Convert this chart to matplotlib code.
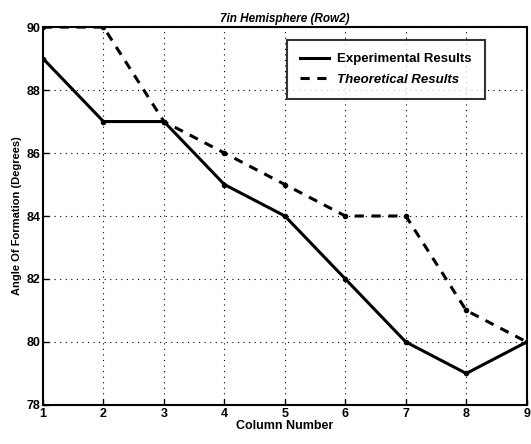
import matplotlib
matplotlib.use("Agg")
import matplotlib.pyplot as plt
from matplotlib.lines import Line2D

columns = [1, 2, 3, 4, 5, 6, 7, 8, 9]
experimental = [89, 87, 87, 85, 84, 82, 80, 79, 80]
theoretical = [90, 90, 87, 86, 85, 84, 84, 81, 80]
yticks = [78, 80, 82, 84, 86, 88, 90]

plt.rcParams['font.family'] = ['Liberation Sans', 'DejaVu Sans']
plt.rcParams['font.weight'] = 'bold'

fig = plt.figure(figsize=(5.31, 4.44), dpi=100)
ax = fig.add_axes([0.081, 0.088, 0.911, 0.851])

ax.plot(columns, experimental, 'k-', linewidth=2.2, marker='o', markersize=3)
ax.plot(columns, theoretical, 'k--', linewidth=2.2, marker='o', markersize=3,
        dashes=(3, 2.5))

ax.set_xlim(1, 9)
ax.set_ylim(78, 90)
ax.set_xticks(columns)
ax.set_yticks(yticks)
ax.tick_params(direction='in', length=4, width=1, labelsize=9, pad=2)
for lab in ax.get_xticklabels() + ax.get_yticklabels():
    lab.set_fontweight('bold')
ax.grid(True, color='black', linestyle=(0, (1, 4)), linewidth=0.8)
for s in ax.spines.values():
    s.set_linewidth(1.5)

ax.set_title('7in Hemisphere (Row2)', fontsize=8.5, fontweight='bold', style='italic', pad=4)
ax.set_xlabel('Column Number', fontsize=9, fontweight='bold', labelpad=0)
ax.set_ylabel('Angle Of Formation (Degrees)', fontsize=8, fontweight='bold', labelpad=3)

handles = [Line2D([], [], color='k', linewidth=2.2, linestyle='-'),
           Line2D([], [], color='k', linewidth=2.2, linestyle='--', dashes=(3, 2.5))]
leg = ax.legend(handles, ['Experimental Results', 'Theoretical Results'],
                loc='upper right', bbox_to_anchor=(0.913, 0.966), borderaxespad=0,
                fontsize=9.5, frameon=True, fancybox=False, edgecolor='black',
                handlelength=2.2, borderpad=1.0, labelspacing=0.6, handletextpad=0.6)
leg.get_frame().set_linewidth(1.5)
for t in leg.get_texts():
    t.set_fontweight('bold')
leg.get_texts()[1].set_style('italic')

fig.savefig('out.png', dpi=100)
